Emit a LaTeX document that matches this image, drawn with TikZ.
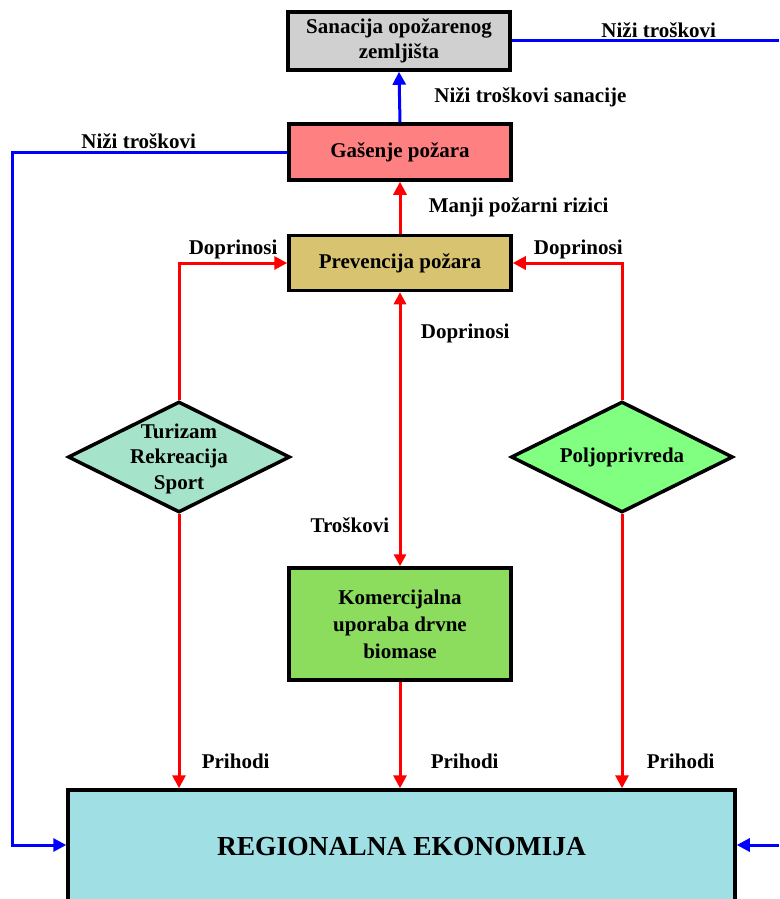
\documentclass[tikz,border=0pt]{standalone}
\usepackage{fontspec}
\setmainfont{Liberation Serif}
\usetikzlibrary{calc,shapes.geometric,arrows.meta}
\definecolor{box_gray}{HTML}{D0D0D0}
\definecolor{fire_red}{HTML}{FF8080}
\definecolor{prev_gold}{HTML}{D8C470}
\definecolor{mint_green}{HTML}{A6E3CB}
\definecolor{light_green}{HTML}{80FF80}
\definecolor{leaf_green}{HTML}{8CDD5D}
\definecolor{eco_cyan}{HTML}{A0DFE4}
\definecolor{flow_red}{HTML}{FF0000}
\definecolor{flow_blue}{HTML}{0000FF}

\begin{document}
\begin{tikzpicture}[x=1pt, y=-1pt,
	txt/.style={font=\fontsize{21}{25.5}\selectfont\bfseries},
	box/.style={txt, draw, line width=3.5pt, minimum width=222pt, inner sep=0pt, align=center},
	rhomb/.style={draw, line width=3.5pt, diamond, inner sep=0pt, minimum width=222pt, minimum height=111pt},
	rhombtext/.style={txt, align=center, inner sep=0pt},
	redflow/.style={draw=flow_red, line width=3pt, -{Triangle[length=13pt, width=13pt]}},
	blueflow/.style={draw=flow_blue, line width=3pt, -{Triangle[length=13pt, width=13pt]}}]
	\useasboundingbox (0, 0) rectangle (779, 899);
	\node[box, fill=box_gray, minimum height=58pt] (san) at (399, 41) {Sanacija opožarenog\\zemljišta};
	\node[box, fill=fire_red, minimum height=56pt] (gas) at (400, 152) {Gašenje požara};
	\node[box, fill=prev_gold, minimum height=55pt] (prev) at (400, 263) {Prevencija požara};
	\node[rhomb, fill=mint_green, label={[rhombtext, yshift=-1.5pt]center:Turizam\\Rekreacija\\Sport}] (tur) at (179, 457) {};
	\node[rhomb, fill=light_green, label={[rhombtext]center:Poljoprivreda}] (pol) at (622, 457) {};
	\node[box, fill=leaf_green, minimum height=112pt, font=\fontsize{21}{27}\selectfont\bfseries] (kom) at (400, 624) {Komercijalna\\uporaba drvne\\biomase};
	\node[box, fill=eco_cyan, minimum width=667pt, minimum height=114pt, font=\fontsize{27.5}{30}\selectfont\bfseries] (reg) at (401.5, 847) {REGIONALNA EKONOMIJA};
	\coordinate (lb) at (12, 845);
	\coordinate (rt) at (779, 41);
	\coordinate (rb) at (779, 845);
	\draw[blueflow] (gas.north) -- (san.south) node[txt, midway, right=30pt, text=black] {Niži troškovi sanacije};
	\draw[blueflow, -] (san.east) -- (rt) node[txt, pos=0.55, above, inner sep=2pt, text=black] {Niži troškovi};
	\draw[blueflow] (gas.west) -| (lb) node[txt, pos=0.27, above, inner sep=2pt, text=black] {Niži troškovi} -- (lb -| reg.west);
	\draw[blueflow] (rb) -- (rb -| reg.east);
	\draw[redflow] (prev.north) -- (gas.south) node[txt, midway, right=24pt, text=black] {Manji požarni rizici};
	\draw[redflow] (tur.north) |- (prev.west) node[txt, pos=0.75, above, inner sep=3pt, text=black] {Doprinosi};
	\draw[redflow] (pol.north) |- (prev.east) node[txt, pos=0.7, above, inner sep=3pt, text=black] {Doprinosi};
	\draw[redflow, {Triangle[length=12pt, width=12pt]}-{Triangle[length=12pt, width=12pt]}] (prev.south) -- (kom.north)
		node[txt, pos=0.15, right=16pt, text=black] {Doprinosi}
		node[txt, pos=0.85, left=6pt, text=black] {Troškovi};
	\draw[redflow] (tur.south) -- (tur.south |- reg.north) node[txt, pos=0.9, right=18pt, text=black] {Prihodi};
	\draw[redflow] (kom.south) -- (kom.south |- reg.north) node[txt, pos=0.75, right=26pt, text=black] {Prihodi};
	\draw[redflow] (pol.south) -- (pol.south |- reg.north) node[txt, pos=0.9, right=20pt, text=black] {Prihodi};
\end{tikzpicture}
\end{document}
